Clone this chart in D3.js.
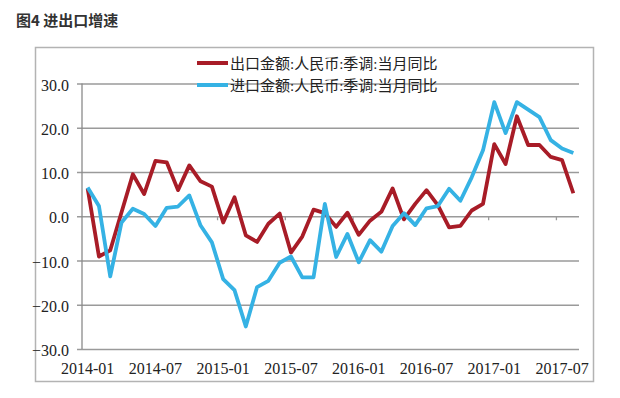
<!DOCTYPE html>
<html>
<head>
<meta charset="utf-8">
<style>
	body { margin: 0; background: #fff; }
	text { font-family: "Liberation Serif", "Times New Roman", "DejaVu Serif", "Noto Sans CJK SC", serif; }
	.grid line { stroke: #9a9a9a; stroke-width: 1.3px; }
	.grid .domain { display: none; }
	.grid text { font-size: 16px; fill: #222; }
</style>
</head>
<body>
<svg width="620" height="398"></svg>
<script src="https://d3js.org/d3.v7.min.js"></script>
<script>

	// months 2014-01 .. 2017-08
	var months = [];
	for (var yr = 2014; yr <= 2017; yr++) {
		for (var mo = 1; mo <= 12; mo++) {
			if (yr == 2017 && mo > 8) break;
			months.push(yr + "-" + (mo < 10 ? "0" + mo : mo));
		}
	}

	var exportsYoY = [6.3, -9.1, -7.7, 0.9, 9.5, 5.0, 12.5, 12.2, 5.9, 11.5, 7.9, 6.7,
		-1.4, 4.3, -4.3, -5.8, -1.7, 0.6, -8.2, -4.6, 1.5, 0.7,
		-2.4, 0.8, -4.2, -1.0, 1.0, 6.3, -0.7, 2.8, 5.9, 2.5,
		-2.5, -2.2, 1.3, 2.8, 16.3, 11.8, 22.6, 16.1, 16.1, 13.4, 12.7, 5.2];

	var importsYoY = [6.5, 2.3, -13.6, -1.4, 1.7, 0.5, -2.2, 1.9, 2.2, 4.7, -2.1, -5.9,
		-14.2, -16.7, -24.9, -16.0, -14.6, -10.5, -9.1, -13.8, -13.8, 2.8,
		-9.2, -4.0, -10.4, -5.4, -8.0, -2.2, 0.7, -2.0, 1.8, 2.3,
		6.2, 3.5, 8.8, 14.9, 25.8, 18.8, 25.8, 24.1, 22.4, 17.2, 15.3, 14.3];

	var seriesNames = ["出口金额:人民币:季调:当月同比", "进口金额:人民币:季调:当月同比"];
	var seriesColors = ["#a81c27", "#35b2e4"];
	var yTicks = [-30, -20, -10, 0, 10, 20, 30];
	var xLabels = ["2014-01", "2014-07", "2015-01", "2015-07", "2016-01", "2016-07", "2017-01", "2017-07"];

	var svg = d3.select("svg");

	svg.append("text")
		.attr("x", 16)
		.attr("y", 26)
		.style("font-family", "'Noto Sans CJK SC', sans-serif")
		.style("font-size", "15px")
		.style("font-weight", "bold")
		.attr("fill", "#333")
		.text("图4 进出口增速");

	// chart frame
	svg.append("rect")
		.attr("x", 35.5)
		.attr("y", 47.5)
		.attr("width", 558)
		.attr("height", 334)
		.attr("fill", "#fff")
		.attr("stroke", "#b3b3b3")
		.attr("stroke-width", 1.5);

	var x = d3.scaleBand()
		.domain(months)
		.range([82, 579]);

	var y = d3.scaleLinear()
		.domain([-30, 30])
		.range([349, 83.5]);

	var grid = svg.append("g")
		.attr("class", "grid")
		.attr("transform", "translate(77,0)")
		.call(d3.axisLeft(y)
			.tickValues(yTicks)
			.tickSizeInner(-(579 - 77))
			.tickSizeOuter(0)
			.tickPadding(8)
			.tickFormat(d3.format(".1f")));
	grid.attr("font-family", null);
	grid.selectAll("text").attr("dy", "0.42em");

	// y axis line
	svg.append("line")
		.attr("x1", 82).attr("x2", 82)
		.attr("y1", y(30)).attr("y2", y(-30))
		.attr("stroke", "#8a8a8a")
		.attr("stroke-width", 1.3);

	// tick marks on the zero line, every 6 months
	svg.append("g")
		.selectAll("line")
		.data(months.filter(function (d, i) { return i > 0 && i % 6 == 0; }))
		.enter().append("line")
		.attr("x1", function (d) { return x(d); })
		.attr("x2", function (d) { return x(d); })
		.attr("y1", y(0))
		.attr("y2", y(0) + 4)
		.attr("stroke", "#9a9a9a")
		.attr("stroke-width", 1.3);

	svg.append("g")
		.selectAll("text")
		.data(xLabels)
		.enter().append("text")
		.attr("x", function (d) { return x(d) + x.bandwidth() / 2; })
		.attr("y", 374)
		.attr("text-anchor", "middle")
		.attr("fill", "#222")
		.style("font-size", "16px")
		.text(function (d) { return d; });

	var line = d3.line()
		.x(function (d, i) { return x(months[i]) + x.bandwidth() / 2; })
		.y(function (d) { return y(d); });

	[exportsYoY, importsYoY].forEach(function (vals, k) {
		svg.append("path")
			.datum(vals)
			.attr("fill", "none")
			.attr("stroke", seriesColors[k])
			.attr("stroke-width", 3.8)
			.attr("stroke-linejoin", "round")
			.attr("d", line);
	});

	// legend
	var legend = svg.append("g")
		.selectAll("g")
		.data(seriesNames)
		.enter().append("g")
		.attr("transform", function (d, i) { return "translate(197," + (63 + i * 22) + ")"; });

	legend.append("line")
		.attr("x1", 0).attr("x2", 31)
		.attr("stroke", function (d, i) { return seriesColors[i]; })
		.attr("stroke-width", 4);

	legend.append("text")
		.attr("x", 33)
		.attr("y", 5.5)
		.attr("fill", "#222")
		.style("font-size", "15px")
		.text(function (d) { return d; });

</script>
</body>
</html>
